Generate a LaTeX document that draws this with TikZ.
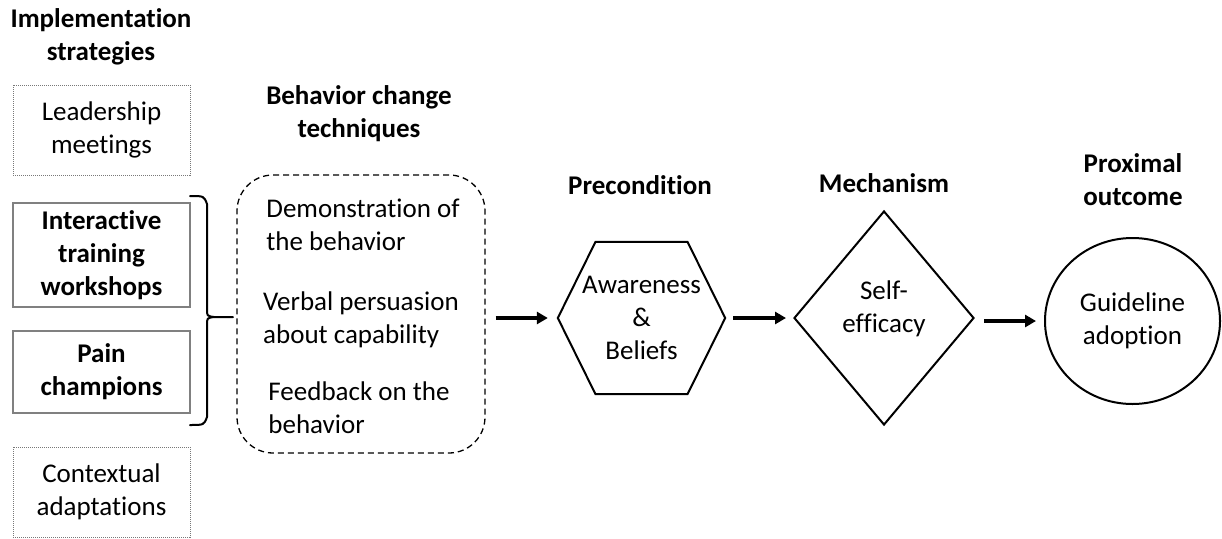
\documentclass[tikz,border=0pt]{standalone}
\usepackage{fontspec}
\setmainfont{Carlito}[Ligatures=NoCommon]
\usetikzlibrary{shapes.geometric,arrows.meta}
\begin{document}
\begin{tikzpicture}[x=1pt,y=-1pt,
  txt/.style={font=\fontsize{27}{33}\selectfont, inner sep=0pt, align=center},
  head/.style={txt, font=\fontsize{27}{33}\selectfont\bfseries},
  dotbox/.style={txt, draw={rgb,255:red,120;green,120;blue,120}, line width=1pt,
    dash pattern=on 1pt off 1pt, minimum width=177pt},
  solidbox/.style={txt, font=\fontsize{27}{33}\selectfont\bfseries,
    draw={rgb,255:red,128;green,128;blue,128}, line width=2.2pt, minimum width=177pt},
  shapeline/.style={draw=black, line width=2pt},
  arr/.style={line width=3.6pt, -{Triangle[length=11pt,width=12pt]}},
  bracket/.style={line width=2pt, line cap=round}
]
\useasboundingbox (0,0) rectangle (1222,538);

% column headings
\node[head] (hImpl) at (101,36.5) {Implementation\\strategies};
\node[head] (hBct)  at (359,113.5) {Behavior change\\techniques};
\node[head] (hPre)  at (640,185) {Precondition};
\node[head] (hMech) at (884,183) {Mechanism};
\node[head] (hOut)  at (1133,180) {Proximal\\outcome};

% implementation strategies
\node[dotbox, minimum height=90pt]    (lead) at (101.5,130) {Leadership\\meetings};
\node[solidbox, minimum height=104pt] (itw)  at (101.5,255) {Interactive\\training\\workshops};
\node[solidbox, minimum height=82pt]  (pain) at (101.5,372) {Pain\\champions};
\node[dotbox, minimum height=90pt]    (ctx)  at (101.5,492) {Contextual\\adaptations};

% brace grouping the two active strategies
\coordinate (tip) at (233,317);
\draw[bracket] (190,196) .. controls (204,196) .. (207,204) -- (207,309)
  .. controls (207,316) .. (214,317) -- (tip);
\draw[bracket] (190,425) .. controls (204,425) .. (207,417) -- (207,325)
  .. controls (207,318) .. (214,317);

% behavior change techniques
\node[draw=black, line width=1.3pt, dash pattern=on 6pt off 4pt, rounded corners=36pt,
  minimum width=248pt, minimum height=278pt] (bct) at (361,314) {};
\node[txt, align=left] (t1) at (363,225) {Demonstration of\\the behavior};
\node[txt, align=left] (t2) at (361,320) {Verbal persuasion\\about capability};
\node[txt, align=left] (t3) at (359,407.5) {Feedback on the\\behavior};

% precondition (hexagon)
\node[txt, minimum width=167pt, minimum height=152pt] (hex) at (641.5,318) {Awareness\\\&\\Beliefs};
\draw[shapeline, line join=miter] (hex.west) -- ([xshift=-46pt]hex.north) -- ([xshift=46pt]hex.north)
  -- (hex.east) -- ([xshift=46pt]hex.south) -- ([xshift=-46pt]hex.south) -- cycle;

% mechanism (diamond)
\node[shapeline, diamond, inner sep=0pt, minimum width=180pt, minimum height=214pt] (dia) at (884,318) {};
\node[txt] (diaText) at (884,309) {Self-\\efficacy};

% proximal outcome (ellipse)
\node[shapeline, ellipse, txt, draw=black, line width=2pt,
  minimum width=175pt, minimum height=166pt] (out) at (1132.5,321) {Guideline\\adoption};

% causal arrows
\draw[arr, shorten <=10pt, shorten >=10pt] (bct.east |- hex.west) -- (hex.west);
\draw[arr, shorten <=8pt, shorten >=7pt] (hex.east) -- (dia.west);
\draw[arr, shorten <=9pt, shorten >=8pt] (dia.east |- out.west) -- (out.west);
\end{tikzpicture}
\end{document}
